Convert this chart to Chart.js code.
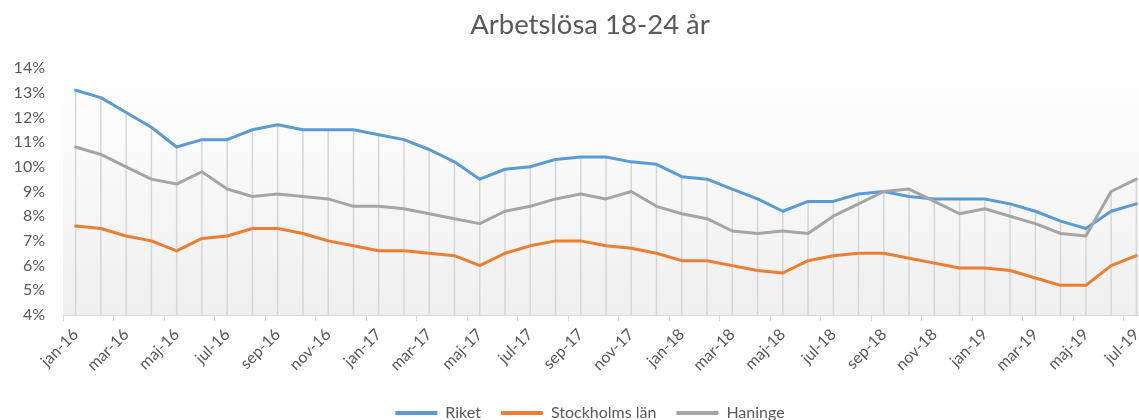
<!DOCTYPE html>
<html>
<head>
<meta charset="utf-8">
<script src="https://cdn.jsdelivr.net/npm/chart.js@4"></script>
<style>
  html, body { margin: 0; padding: 0; background: #ffffff; overflow: hidden; }
  #wrap { position: relative; width: 1180px; height: 431px; }
</style>
</head>
<body>
<div id="wrap"><canvas id="c"></canvas></div>
<script>
const categories = [
  'jan-16','feb-16','mar-16','apr-16','maj-16','jun-16','jul-16','aug-16','sep-16','okt-16','nov-16','dec-16',
  'jan-17','feb-17','mar-17','apr-17','maj-17','jun-17','jul-17','aug-17','sep-17','okt-17','nov-17','dec-17',
  'jan-18','feb-18','mar-18','apr-18','maj-18','jun-18','jul-18','aug-18','sep-18','okt-18','nov-18','dec-18',
  'jan-19','feb-19','mar-19','apr-19','maj-19','jun-19','jul-19'
];
const riket = [
  13.1, 12.8, 12.2, 11.6, 10.8, 11.1, 11.1, 11.5, 11.7, 11.5, 11.5, 11.5,
  11.3, 11.1, 10.7, 10.2, 9.5, 9.9, 10.0, 10.3, 10.4, 10.4, 10.2, 10.1,
  9.6, 9.5, 9.1, 8.7, 8.2, 8.6, 8.6, 8.9, 9.0, 8.8, 8.7, 8.7,
  8.7, 8.5, 8.2, 7.8, 7.5, 8.2, 8.5
];
const stockholmsLan = [
  7.6, 7.5, 7.2, 7.0, 6.6, 7.1, 7.2, 7.5, 7.5, 7.3, 7.0, 6.8,
  6.6, 6.6, 6.5, 6.4, 6.0, 6.5, 6.8, 7.0, 7.0, 6.8, 6.7, 6.5,
  6.2, 6.2, 6.0, 5.8, 5.7, 6.2, 6.4, 6.5, 6.5, 6.3, 6.1, 5.9,
  5.9, 5.8, 5.5, 5.2, 5.2, 6.0, 6.4
];
const haninge = [
  10.8, 10.5, 10.0, 9.5, 9.3, 9.8, 9.1, 8.8, 8.9, 8.8, 8.7, 8.4,
  8.4, 8.3, 8.1, 7.9, 7.7, 8.2, 8.4, 8.7, 8.9, 8.7, 9.0, 8.4,
  8.1, 7.9, 7.4, 7.3, 7.4, 7.3, 8.0, 8.5, 9.0, 9.1, 8.6, 8.1,
  8.3, 8.0, 7.7, 7.3, 7.2, 9.0, 9.5
];
const yTicks = [4, 5, 6, 7, 8, 9, 10, 11, 12, 13, 14];
const seriesNames = ['Riket', 'Stockholms län', 'Haninge'];
const seriesColors = ['#5B9BD5', '#ED7D31', '#A5A5A5'];

const FONT = 'Lato, "Noto Sans", sans-serif';
const TEXT = '#595959';

const bgAndDropLines = {
  id: 'bgAndDropLines',
  beforeDatasetsDraw(chart) {
    const { ctx, chartArea, scales } = chart;
    const g = ctx.createLinearGradient(0, chartArea.top, 0, chartArea.bottom);
    g.addColorStop(0, '#ffffff');
    g.addColorStop(1, '#efefef');
    ctx.save();
    ctx.fillStyle = g;
    ctx.fillRect(chartArea.left, chartArea.top, chartArea.right - chartArea.left, chartArea.bottom - chartArea.top);
    ctx.strokeStyle = '#d6d6d6';
    ctx.lineWidth = 1.5;
    const sets = chart.data.datasets;
    for (let i = 0; i < categories.length; i++) {
      const top = Math.max(...sets.map(d => d.data[i]));
      const x = scales.x.getPixelForValue(i);
      ctx.beginPath();
      ctx.moveTo(x, scales.y.getPixelForValue(top));
      ctx.lineTo(x, chartArea.bottom);
      ctx.stroke();
    }
    ctx.restore();
  }
};

const values = [riket, stockholmsLan, haninge];
new Chart(document.getElementById('c'), {
  type: 'line',
  data: {
    labels: categories,
    datasets: values.map((v, i) => ({
      label: seriesNames[i],
      data: v,
      borderColor: seriesColors[i],
      backgroundColor: seriesColors[i],
      borderWidth: 3,
      pointRadius: 0,
      pointHoverRadius: 0,
      tension: 0,
      fill: false,
      borderJoinStyle: 'round',
      borderCapStyle: 'round',
      order: 2 - i
    }))
  },
  options: {
    responsive: true,
    maintainAspectRatio: false,
    animation: false,
    events: [],
    layout: { padding: { left: 0, right: 0, top: 0, bottom: 0 } },
    plugins: {
      title: {
        display: true,
        text: 'Arbetslösa 18-24 år',
        color: TEXT,
        font: { family: FONT, size: 27.5, weight: 'normal', lineHeight: 1.2 },
        padding: { top: 9, bottom: 26 }
      },
      legend: {
        display: true,
        position: 'bottom',
        labels: {
          color: TEXT,
          font: { family: FONT, size: 16 },
          boxWidth: 42,
          boxHeight: 4,
          padding: 20,
          sort: (a, b) => a.datasetIndex - b.datasetIndex,
          generateLabels(chart) {
            const items = Chart.defaults.plugins.legend.labels.generateLabels(chart);
            items.forEach(it => { it.lineWidth = 0; it.fillStyle = seriesColors[it.datasetIndex]; });
            return items;
          }
        }
      },
      tooltip: { enabled: false }
    },
    scales: {
      x: {
        type: 'category',
        offset: true,
        grid: {
          offset: true,
          drawOnChartArea: false,
          drawTicks: true,
          tickLength: 6,
          color: (c) => (c.index % 2 === 0 ? '#d9d9d9' : 'rgba(0,0,0,0)')
        },
        border: { display: true, color: '#d9d9d9', width: 1 },
        ticks: {
          autoSkip: false,
          minRotation: 45,
          maxRotation: 45,
          padding: 4,
          color: TEXT,
          font: { family: FONT, size: 16 },
          callback: (v, i) => (i % 2 === 0 ? categories[i] : '')
        },
        afterFit(scale) { scale.height = 70; }
      },
      y: {
        min: yTicks[0],
        max: yTicks[yTicks.length - 1],
        grid: { display: false, drawTicks: false },
        border: { display: false },
        afterBuildTicks(scale) { scale.ticks = yTicks.map(v => ({ value: v })); },
        ticks: {
          padding: 18,
          color: TEXT,
          font: { family: FONT, size: 16 },
          callback: (v) => v + '%'
        },
        afterFit(scale) { scale.width = 63; }
      },
      rightSpace: {
        type: 'linear',
        position: 'right',
        display: true,
        grid: { display: false, drawTicks: false },
        border: { display: false },
        ticks: { display: false },
        afterFit(scale) { scale.width = 31; }
      }
    }
  },
  plugins: [bgAndDropLines]
});
</script>
</body>
</html>
